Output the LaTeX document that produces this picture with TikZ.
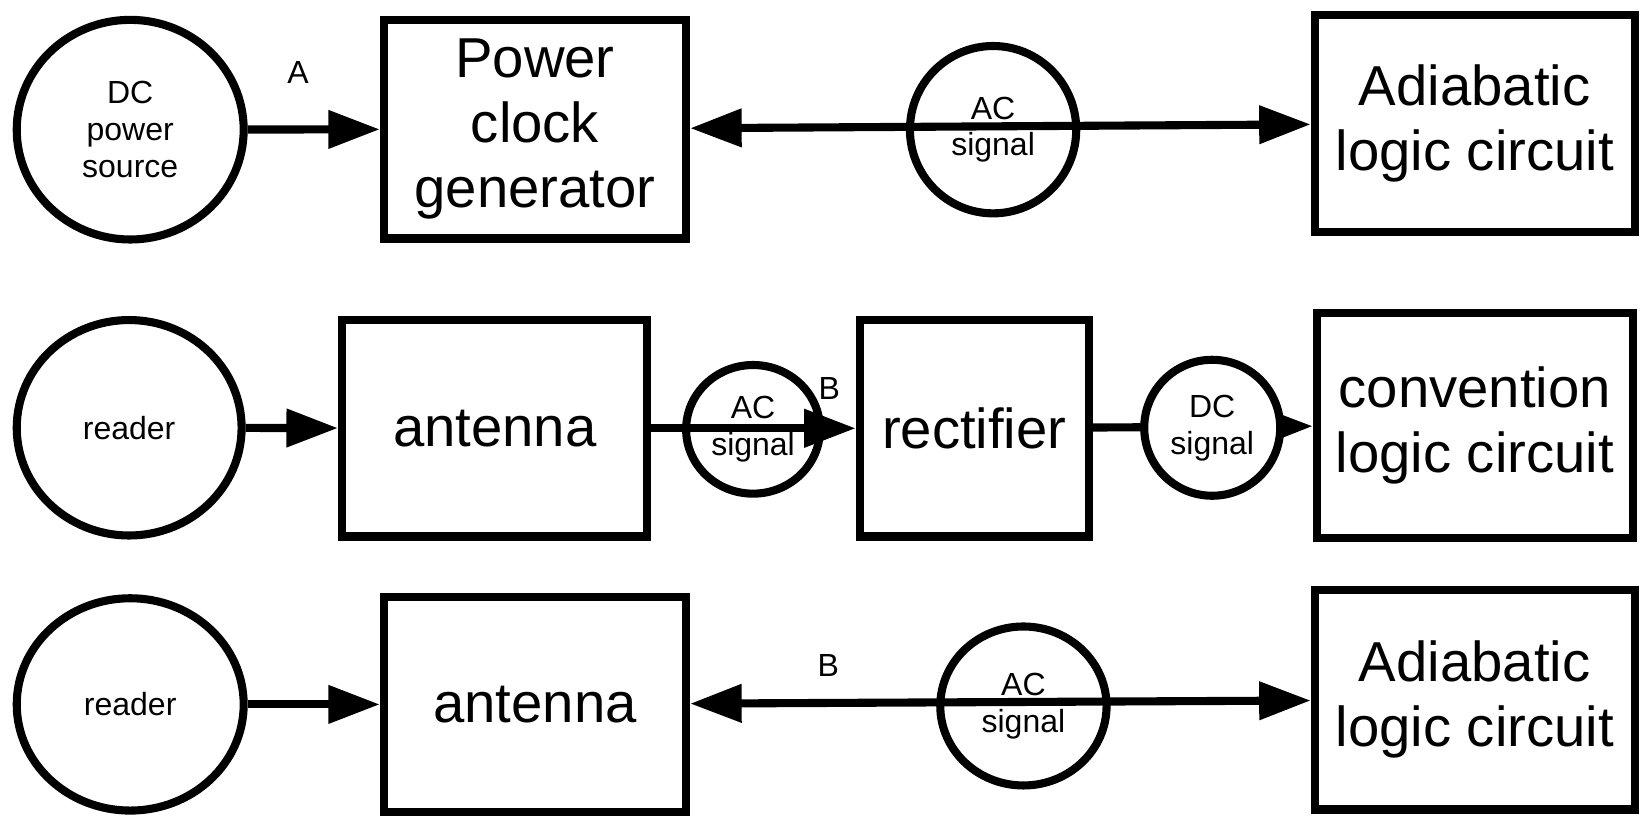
\documentclass[tikz,border=0pt]{standalone}
\usepackage{fontspec}
\setmainfont{Liberation Sans}
\usetikzlibrary{shapes.geometric,arrows.meta,positioning}
\tikzset{blk/.style={draw, rectangle, line width=2.2pt, align=center, inner sep=2pt, font=\fontsize{15.3}{17.6}\selectfont}}
\tikzset{sig/.style={draw, ellipse, line width=2.2pt, align=center, inner sep=1pt, font=\fontsize{8.7}{10}\selectfont}}
\tikzset{sz/.style 2 args={minimum width=#1*0.01cm, minimum height=#2*0.01cm}}
\tikzstyle{lbl}=[inner sep=0pt, font=\fontsize{8.7}{10}\selectfont]
\tikzstyle{con}=[line width=2.2pt]

\begin{document}
\begin{tikzpicture}[x=0.01cm, y=-0.01cm, >={Triangle[length=14pt,width=10pt]}]
\useasboundingbox (0,0) rectangle (1568,783);
% first row
\node[sig, sz={217}{210}] (dcsrc) at (124.5,124) {DC\\power\\source};
\node[blk, sz={289}{209}] (pcg) at (511.5,123.5) {Power\\clock\\generator};
\node[sig, sz={159}{160}] (ac1) at (949.5,124) {AC\\signal};
\node[blk, sz={306}{208}] (alc1) at (1410,118) {Adiabatic\\logic circuit};
\node[lbl] (labA) at (285,69) {A};

\draw[con,->] (dcsrc) -- (pcg);
\draw[con,<->] (pcg) -- (alc1);

% second row
\node[sig, sz={215}{206}] (rd1) at (123.5,409) {reader};
\node[blk, sz={292}{207}] (ant1) at (473,409.5) {antenna};
\node[sig, sz={128}{123}] (ac2) at (720,410.5) {AC\\signal};
\node[blk, sz={219}{207}] (rect) at (931.5,409.5) {rectifier};
\node[blk, sz={302}{215}] (clc) at (1410,406.5) {convention\\logic circuit};
\node[lbl] (labB1) at (793,371) {B};

\draw[con,->] (rd1) -- (ant1);
\draw[con,->] (ant1) -- (rect);
\draw[con,->] (rect) -- (clc);
\node[sig, fill=white, sz={130}{130}] (dcsig) at (1159,409) {DC\\signal};

% third row
\node[sig, sz={217}{203}] (rd2) at (124.5,673.5) {reader};
\node[blk, sz={289}{205}] (ant2) at (511.5,673.5) {antenna};
\node[sig, sz={159}{152}] (ac3) at (978.5,675) {AC\\signal};
\node[blk, sz={306}{210}] (alc2) at (1410,669) {Adiabatic\\logic circuit};
\node[lbl] (labB2) at (792,636) {B};

\draw[con,->] (rd2) -- (ant2);
\draw[con,<->] (ant2) -- (alc2);
\end{tikzpicture}
\end{document}
